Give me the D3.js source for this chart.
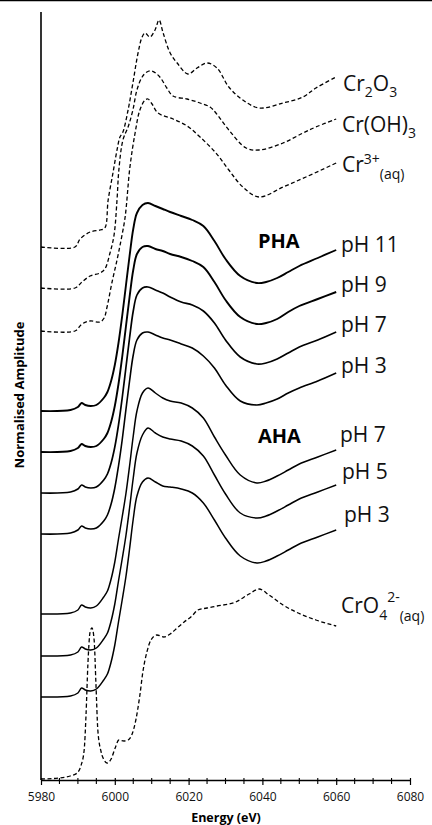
<!DOCTYPE html>
<html>
<head>
<meta charset="utf-8">
<script src="https://cdn.jsdelivr.net/npm/d3@7"></script>
<style>
  body { margin: 0; background: #fff; }
  svg { display: block; font-family: "Open Sans", sans-serif; }
</style>
</head>
<body>
<div id="chart"></div>
<script>
// shared energy grid for the sample spectra (eV)
const energy = [5980, 5988, 5990, 5991, 5992, 5993.5, 5995, 5997, 5998, 5999, 6000, 6001, 6002, 6003, 6004,
  6005, 6006, 6007.5, 6009, 6011, 6013, 6015, 6018, 6021, 6024, 6027, 6030, 6034, 6038.5, 6041, 6044,
  6047, 6050, 6055, 6060];

// stacked (offset) normalised amplitude, PHA samples
const phaPH11 = [3.69, 3.70, 3.73, 3.77, 3.75, 3.74, 3.75, 3.82, 3.88, 3.99, 4.15, 4.37, 4.64, 4.94, 5.24,
  5.51, 5.67, 5.75, 5.77, 5.74, 5.71, 5.68, 5.64, 5.60, 5.54, 5.39, 5.21, 5.04, 4.97, 4.98, 5.02, 5.08, 5.14, 5.22, 5.30];
const phaPH9 = [3.28, 3.29, 3.32, 3.36, 3.34, 3.33, 3.34, 3.41, 3.47, 3.58, 3.74, 3.96, 4.23, 4.53, 4.83,
  5.10, 5.26, 5.33, 5.34, 5.31, 5.29, 5.26, 5.23, 5.19, 5.13, 4.98, 4.80, 4.63, 4.56, 4.57, 4.61, 4.68, 4.74, 4.81, 4.88];
const phaPH7 = [2.87, 2.88, 2.91, 2.95, 2.93, 2.92, 2.93, 3.00, 3.06, 3.17, 3.33, 3.55, 3.82, 4.12, 4.42,
  4.69, 4.85, 4.92, 4.93, 4.90, 4.87, 4.83, 4.78, 4.75, 4.69, 4.57, 4.40, 4.23, 4.16, 4.17, 4.21, 4.27, 4.33, 4.40, 4.48];
const phaPH3 = [2.46, 2.47, 2.50, 2.54, 2.52, 2.51, 2.52, 2.59, 2.65, 2.76, 2.92, 3.14, 3.40, 3.70, 3.99,
  4.25, 4.40, 4.47, 4.48, 4.45, 4.42, 4.40, 4.36, 4.32, 4.24, 4.12, 3.95, 3.79, 3.75, 3.77, 3.81, 3.87, 3.92, 3.99, 4.07];

// AHA samples
const ahaPH7 = [1.66, 1.67, 1.70, 1.75, 1.73, 1.72, 1.74, 1.83, 1.89, 2.01, 2.18, 2.41, 2.63, 2.86, 3.14,
  3.44, 3.69, 3.87, 3.92, 3.87, 3.82, 3.79, 3.77, 3.72, 3.62, 3.43, 3.25, 3.05, 2.97, 2.99, 3.04, 3.10, 3.16, 3.23, 3.30];
const ahaPH5 = [1.24, 1.25, 1.28, 1.33, 1.31, 1.30, 1.32, 1.41, 1.47, 1.59, 1.76, 1.99, 2.21, 2.44, 2.72,
  3.02, 3.27, 3.45, 3.52, 3.47, 3.43, 3.41, 3.39, 3.34, 3.24, 3.05, 2.86, 2.67, 2.62, 2.64, 2.69, 2.75, 2.81, 2.88, 2.95];
const ahaPH3 = [0.83, 0.84, 0.87, 0.92, 0.90, 0.89, 0.91, 1.00, 1.06, 1.18, 1.35, 1.58, 1.80, 2.03, 2.31,
  2.61, 2.84, 2.98, 3.02, 2.98, 2.94, 2.93, 2.91, 2.87, 2.77, 2.60, 2.42, 2.24, 2.17, 2.19, 2.24, 2.30, 2.36, 2.43, 2.50];

// reference standards [energy, amplitude]
const cr2o3 = [[5980, 5.33], [5989.2, 5.33], [5990.6, 5.41], [5993.3, 5.48], [5996, 5.50], [5997.3, 5.52],
  [5998.2, 5.80], [5999.5, 6.07], [6000.6, 6.30], [6001.4, 6.43], [6002.2, 6.48], [6003.6, 6.70], [6004.9, 6.97],
  [6006.3, 7.27], [6007.4, 7.43], [6008.2, 7.47], [6009.5, 7.43], [6010.9, 7.50], [6012.0, 7.60], [6013.1, 7.47],
  [6015.0, 7.27], [6016.9, 7.17], [6019.8, 7.06], [6022.3, 7.12], [6025.0, 7.17], [6027.7, 7.12], [6030.9, 6.93],
  [6034.7, 6.80], [6039.1, 6.72], [6045.6, 6.77], [6051.0, 6.83], [6054.5, 6.92], [6060, 7.03]];
const croh3 = [[5980, 4.92], [5989.2, 4.92], [5991.1, 4.98], [5993.3, 5.04], [5996, 5.07], [5997.3, 5.11],
  [5998.7, 5.27], [5999.8, 5.45], [6000.6, 5.80], [6001.1, 6.10], [6002.2, 6.40], [6003.6, 6.53], [6004.9, 6.70],
  [6006.0, 6.90], [6007.4, 7.03], [6008.7, 7.08], [6010.1, 7.09], [6012.2, 7.03], [6014.1, 6.92], [6015.8, 6.84],
  [6019.6, 6.81], [6023.1, 6.77], [6025.8, 6.73], [6027.4, 6.67], [6030.9, 6.50], [6035.6, 6.32], [6039.1, 6.30],
  [6045.6, 6.37], [6051.0, 6.47], [6054.5, 6.53], [6060, 6.61]];
const cr3aq = [[5980, 4.49], [5989.2, 4.49], [5991.1, 4.56], [5993.3, 4.59], [5996, 4.58], [5997.1, 4.62],
  [5997.9, 4.73], [5999.2, 4.97], [6000.6, 5.20], [6001.7, 5.40], [6002.8, 5.63], [6004.1, 6.13], [6005.5, 6.47],
  [6006.8, 6.70], [6008.2, 6.80], [6009.0, 6.81], [6010.1, 6.76], [6011.7, 6.67], [6015.8, 6.61], [6019.6, 6.54],
  [6023.1, 6.43], [6027.4, 6.27], [6030.9, 6.10], [6034.7, 5.93], [6039.1, 5.83], [6045.6, 5.93], [6051.8, 6.03],
  [6060, 6.17]];
const cro4 = [[5980, 0.01], [5985.1, 0.02], [5987.9, 0.04], [5989.8, 0.07], [5990.8, 0.14], [5991.7, 0.30],
  [5992.2, 0.65], [5992.7, 1.15], [5993.3, 1.48], [5993.8, 1.52], [5994.4, 1.40], [5994.9, 0.95], [5995.4, 0.50],
  [5996.3, 0.28], [5997.1, 0.20], [5997.9, 0.17], [5999.0, 0.21], [6000.1, 0.32], [6001.1, 0.40], [6002.5, 0.39],
  [6003.6, 0.40], [6004.7, 0.46], [6005.7, 0.60], [6006.8, 0.85], [6007.6, 1.08], [6008.7, 1.28], [6009.8, 1.40],
  [6011.4, 1.45], [6013.3, 1.43], [6015.0, 1.46], [6016.9, 1.52], [6018.8, 1.58], [6020.9, 1.64], [6022.5, 1.70],
  [6025.0, 1.72], [6027.7, 1.74], [6032.8, 1.78], [6036.4, 1.86], [6039.1, 1.91], [6041.8, 1.85], [6045.6, 1.75],
  [6049.1, 1.68], [6054.5, 1.60], [6060, 1.54]];

const xTicks = [5980, 6000, 6020, 6040, 6060, 6080];

// build series table
const zip = vals => energy.map((e, i) => [e, vals[i]]);
const series = [
  { id: "cr2o3", pts: cr2o3, dashed: true },
  { id: "croh3", pts: croh3, dashed: true },
  { id: "cr3aq", pts: cr3aq, dashed: true },
  { id: "pha11", pts: zip(phaPH11), dashed: false, w: 1.9 },
  { id: "pha9", pts: zip(phaPH9), dashed: false, w: 1.9 },
  { id: "pha7", pts: zip(phaPH7), dashed: false, w: 1.7 },
  { id: "pha3", pts: zip(phaPH3), dashed: false, w: 1.6 },
  { id: "aha7", pts: zip(ahaPH7), dashed: false, w: 1.5 },
  { id: "aha5", pts: zip(ahaPH5), dashed: false, w: 1.5 },
  { id: "aha3", pts: zip(ahaPH3), dashed: false, w: 1.5 },
  { id: "cro4", pts: cro4, dashed: true, sharp: true }
];

const W = 432, H = 825;
const margin = { top: 12, left: 41, right: 22, bottom: 45 };

const svg = d3.select("#chart").append("svg")
  .attr("width", W).attr("height", H);

const x = d3.scaleLinear().domain([5980, 6080]).range([margin.left, W - margin.right]);
const y = d3.scaleLinear().domain([0, 7.68]).range([H - margin.bottom, margin.top]);

// top frame line
svg.append("line").attr("x1", 0).attr("x2", W).attr("y1", 0.5).attr("y2", 0.5)
  .attr("stroke", "#000").attr("stroke-width", 1.5);

const smooth = d3.line().x(d => x(d[0])).y(d => y(d[1])).curve(d3.curveCatmullRom.alpha(0.5));
const mono = d3.line().x(d => x(d[0])).y(d => y(d[1])).curve(d3.curveMonotoneX);

svg.append("g").selectAll("path")
  .data(series)
  .enter().append("path")
  .attr("d", d => (d.sharp ? mono : smooth)(d.pts))
  .attr("fill", "none")
  .attr("stroke", "#000")
  .attr("stroke-width", d => d.dashed ? 1.3 : d.w)
  .attr("stroke-dasharray", d => d.dashed ? "4,2.5" : null)
  .attr("stroke-linejoin", "round");

// axes
svg.append("line")
  .attr("x1", x(5980)).attr("x2", x(5980))
  .attr("y1", y(7.68)).attr("y2", y(0))
  .attr("stroke", "#000").attr("stroke-width", 1.6);

const xAxis = svg.append("g")
  .attr("transform", "translate(0," + y(0) + ")")
  .call(d3.axisBottom(x).tickValues(xTicks).tickSize(5).tickSizeOuter(0).tickFormat(d3.format("d")));
xAxis.select(".domain").attr("stroke-width", 1.6);
xAxis.selectAll(".tick line").attr("y1", -2).attr("stroke-width", 1.2);
xAxis.selectAll(".tick text")
  .attr("y", 12).attr("dy", "0.71em")
  .style("font-size", "12px").style("font-family", "'Open Sans', sans-serif").attr("fill", "#111");

const minor = d3.range(5985, 6080, 5).filter(v => v % 20 !== 0);
svg.append("g").selectAll("line")
  .data(minor).enter().append("line")
  .attr("x1", d => x(d)).attr("x2", d => x(d))
  .attr("y1", y(0) - 2).attr("y2", y(0) + 4)
  .attr("stroke", "#000").attr("stroke-width", 1.1);

svg.append("text")
  .attr("x", 226).attr("y", 822)
  .attr("text-anchor", "middle")
  .style("font-weight", "bold").style("font-size", "12.5px")
  .text("Energy (eV)");

svg.append("text")
  .attr("transform", "translate(24,395) rotate(-90)")
  .attr("text-anchor", "middle")
  .style("font-weight", "bold").style("font-size", "13px")
  .text("Normalised Amplitude");

// curve labels: segments of [text, shift] where shift is px below baseline
const labels = [
  { x: 343, y: 91, segs: [["Cr", 0], ["2", 6], ["O", 0], ["3", 6]] },
  { x: 342, y: 132, segs: [["Cr(OH)", 0], ["3", 6]] },
  { x: 342, y: 172, segs: [["Cr", 0], ["3+", -8], ["(aq)", 7]] },
  { x: 341, y: 252, segs: [["pH 11", 0]] },
  { x: 341, y: 292, segs: [["pH 9", 0]] },
  { x: 341, y: 332, segs: [["pH 7", 0]] },
  { x: 341, y: 373, segs: [["pH 3", 0]] },
  { x: 340, y: 442, segs: [["pH 7", 0]] },
  { x: 342, y: 479, segs: [["pH 5", 0]] },
  { x: 344, y: 522, segs: [["pH 3", 0]] },
  { x: 341, y: 613, segs: [["CrO", 0], ["4", 7], ["2-", -11], ["(aq)", 8]] }
];

labels.forEach(l => {
  const t = svg.append("text").attr("x", l.x).attr("y", l.y)
    .style("font-size", "21px").attr("fill", "#111");
  let cur = 0;
  l.segs.forEach(s => {
    t.append("tspan")
      .attr("dy", s[1] - cur)
      .style("font-size", s[1] === 0 ? "21px" : "14px")
      .text(s[0]);
    cur = s[1];
  });
});

svg.append("text").attr("x", 258).attr("y", 248)
  .style("font-weight", "bold").style("font-size", "20px").text("PHA");
svg.append("text").attr("x", 258).attr("y", 443)
  .style("font-weight", "bold").style("font-size", "20px").text("AHA");
</script>
</body>
</html>
